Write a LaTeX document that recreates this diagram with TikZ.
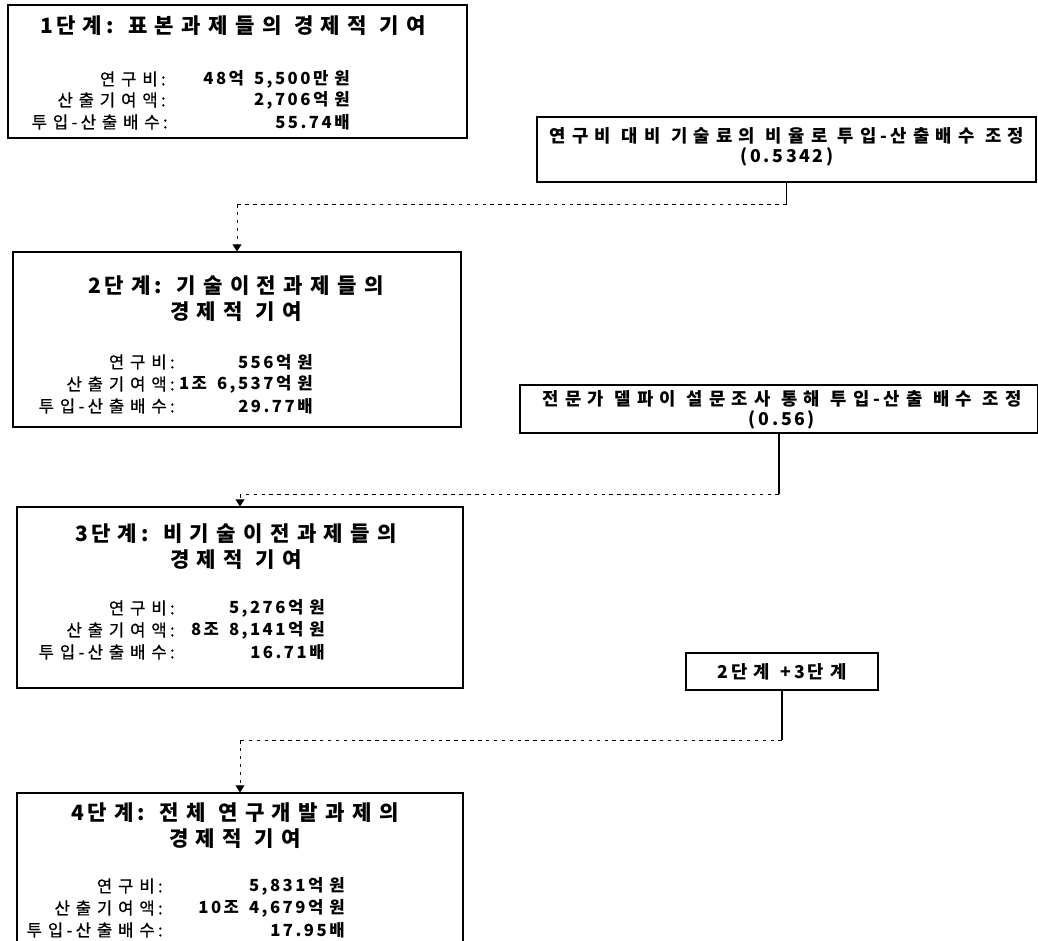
\documentclass[tikz,border=0pt]{standalone}
\usepackage{fontspec}
\newfontfamily\kr{Noto Sans CJK KR}
\newfontfamily\krm[FakeBold=0.6]{Noto Sans CJK KR}
\usetikzlibrary{arrows.meta, positioning, fit}
% wide tracking between Hangul syllables and figures
\XeTeXinterchartokenstate=1
\newXeTeXintercharclass\hgcls
\newXeTeXintercharclass\numcls
\count255="AC00
\loop
  \XeTeXcharclass\count255=\hgcls
  \advance\count255 by 1
\ifnum\count255<"D7A4 \repeat
\count255=`0
\loop
  \XeTeXcharclass\count255=\numcls
  \advance\count255 by 1
\ifnum\count255<`: \repeat
\XeTeXcharclass`,=\numcls
\XeTeXcharclass`.=\numcls
\XeTeXinterchartoks\hgcls\hgcls={\kern0.35em}
\XeTeXinterchartoks\hgcls 0={\kern0.2em}
\XeTeXinterchartoks 0\hgcls={\kern0.2em}
\XeTeXinterchartoks\hgcls\numcls={\kern0.15em}
\XeTeXinterchartoks\numcls\hgcls={\kern0.15em}
\XeTeXinterchartoks\numcls\numcls={\kern0.15em}
\XeTeXinterchartoks 0\numcls={\kern0.15em}
\XeTeXinterchartoks\numcls 0={\kern0.15em}

\begin{document}
\begin{tikzpicture}[x=0.02cm, y=-0.02cm,
  stagebox/.style={draw, line width=0.6pt, inner sep=0pt},
  ttl/.style={font={\kr\fontsize{12}{14.8}\bfseries\selectfont\spaceskip=0.6em\relax}, align=center, inner sep=0pt},
  lbl/.style={font={\krm\fontsize{9.5}{10}\selectfont}, anchor=east, inner sep=0pt},
  val/.style={font={\kr\fontsize{9.5}{10}\bfseries\selectfont\spaceskip=0.6em\relax}, anchor=east, inner sep=0pt},
  note/.style={font={\kr\fontsize{10.1}{11.2}\bfseries\selectfont\spaceskip=0.6em\relax}, align=center, inner sep=0pt},
  link/.style={line width=0.6pt},
  faint/.style={line width=0.5pt, dash pattern=on 2pt off 2.5pt},
  tip/.style={-{Triangle[width=5pt,length=4pt]}}]
  \useasboundingbox (0,0) rectangle (1038,940);
  \clip (0,0) rectangle (1038,940);
  % ---------- stage 1 ----------
  \node[stagebox, fit={(8,5) (467,138)}] (s1) {};
  \node[ttl] (s1t) at (233,26) {1단계: 표본과제들의 경제적 기여};
  \node[lbl] (s1l1) at (166,79) {연구비:};
  \node[lbl] (s1l2) at (166,100) {산출기여액:};
  \node[lbl] (s1l3) at (168,122) {투입-산출배수:};
  \node[val] (s1v1) at (350,79) {48억 5,500만원};
  \node[val] (s1v2) at (350,100) {2,706억원};
  \node[val] (s1v3) at (350,122) {55.74배};
  % ---------- adjustment 1 ----------
  \node[stagebox, fit={(537,117) (1036,182)}] (a1) {};
  \node[note] (a1t) at (787,147) {연구비 대비 기술료의 비율로 투입-산출배수 조정\\(0.5342)};
  % ---------- stage 2 ----------
  \node[stagebox, fit={(13,252) (461,427)}] (s2) {};
  \node[ttl] (s2t) at (236,299) {2단계: 기술이전과제들의\\경제적 기여};
  \node[lbl] (s2l1) at (175,362) {연구비:};
  \node[lbl] (s2l2) at (175,384) {산출기여액:};
  \node[lbl] (s2l3) at (175,406) {투입-산출배수:};
  \node[val] (s2v1) at (313,362) {556억원};
  \node[val] (s2v2) at (313,384) {1조 6,537억원};
  \node[val] (s2v3) at (313,406) {29.77배};
  % ---------- adjustment 2 ----------
  \node[stagebox, fit={(520,385) (1038,433)}] (a2) {};
  \node[note] (a2t) at (782,409.5) {전문가 델파이 설문조사 통해 투입-산출 배수 조정\\(0.56)};
  % ---------- stage 3 ----------
  \node[stagebox, fit={(17,507) (463,688)}] (s3) {};
  \node[ttl] (s3t) at (236,547) {3단계: 비기술이전과제들의\\경제적 기여};
  \node[lbl] (s3l1) at (175,608) {연구비:};
  \node[lbl] (s3l2) at (175,630) {산출기여액:};
  \node[lbl] (s3l3) at (175,652) {투입-산출배수:};
  \node[val] (s3v1) at (325,608) {5,276억원};
  \node[val] (s3v2) at (325,630) {8조 8,141억원};
  \node[val] (s3v3) at (325,652) {16.71배};
  % ---------- adjustment 3 ----------
  \node[stagebox, fit={(686,653) (878,690)}] (a3) {};
  \node[note] (a3t) at (782,671.5) {2단계 +3단계};
  % ---------- stage 4 ----------
  \node[stagebox, fit={(17,793) (463,950)}] (s4) {};
  \node[ttl] (s4t) at (235,825.5) {4단계: 전체 연구개발과제의\\경제적 기여};
  \node[lbl] (s4l1) at (163,886) {연구비:};
  \node[lbl] (s4l2) at (163,908) {산출기여액:};
  \node[lbl] (s4l3) at (163,930) {투입-산출배수:};
  \node[val] (s4v1) at (345,886) {5,831억원};
  \node[val] (s4v2) at (345,908) {10조 4,679억원};
  \node[val] (s4v3) at (345,930) {17.95배};
  % ---------- connectors ----------
  \coordinate (j1) at (786.5,204);
  \coordinate (k1) at (237,204);
  \coordinate (j2) at (779,494);
  \coordinate (k2) at (240,494);
  \coordinate (j3) at (782,740);
  \coordinate (k3) at (240,740);
  \draw[link] (a1) -- (j1);
  \draw[faint] (j1) -- (k1);
  \draw[faint, tip] (k1) -- (s2);
  \draw[link] (a2) -- (j2);
  \draw[faint] (j2) -- (k2);
  \draw[faint, tip] (k2) -- (s3);
  \draw[link] (a3) -- (j3);
  \draw[faint] (j3) -- (k3);
  \draw[faint, tip] (k3) -- (s4);
\end{tikzpicture}
\end{document}
